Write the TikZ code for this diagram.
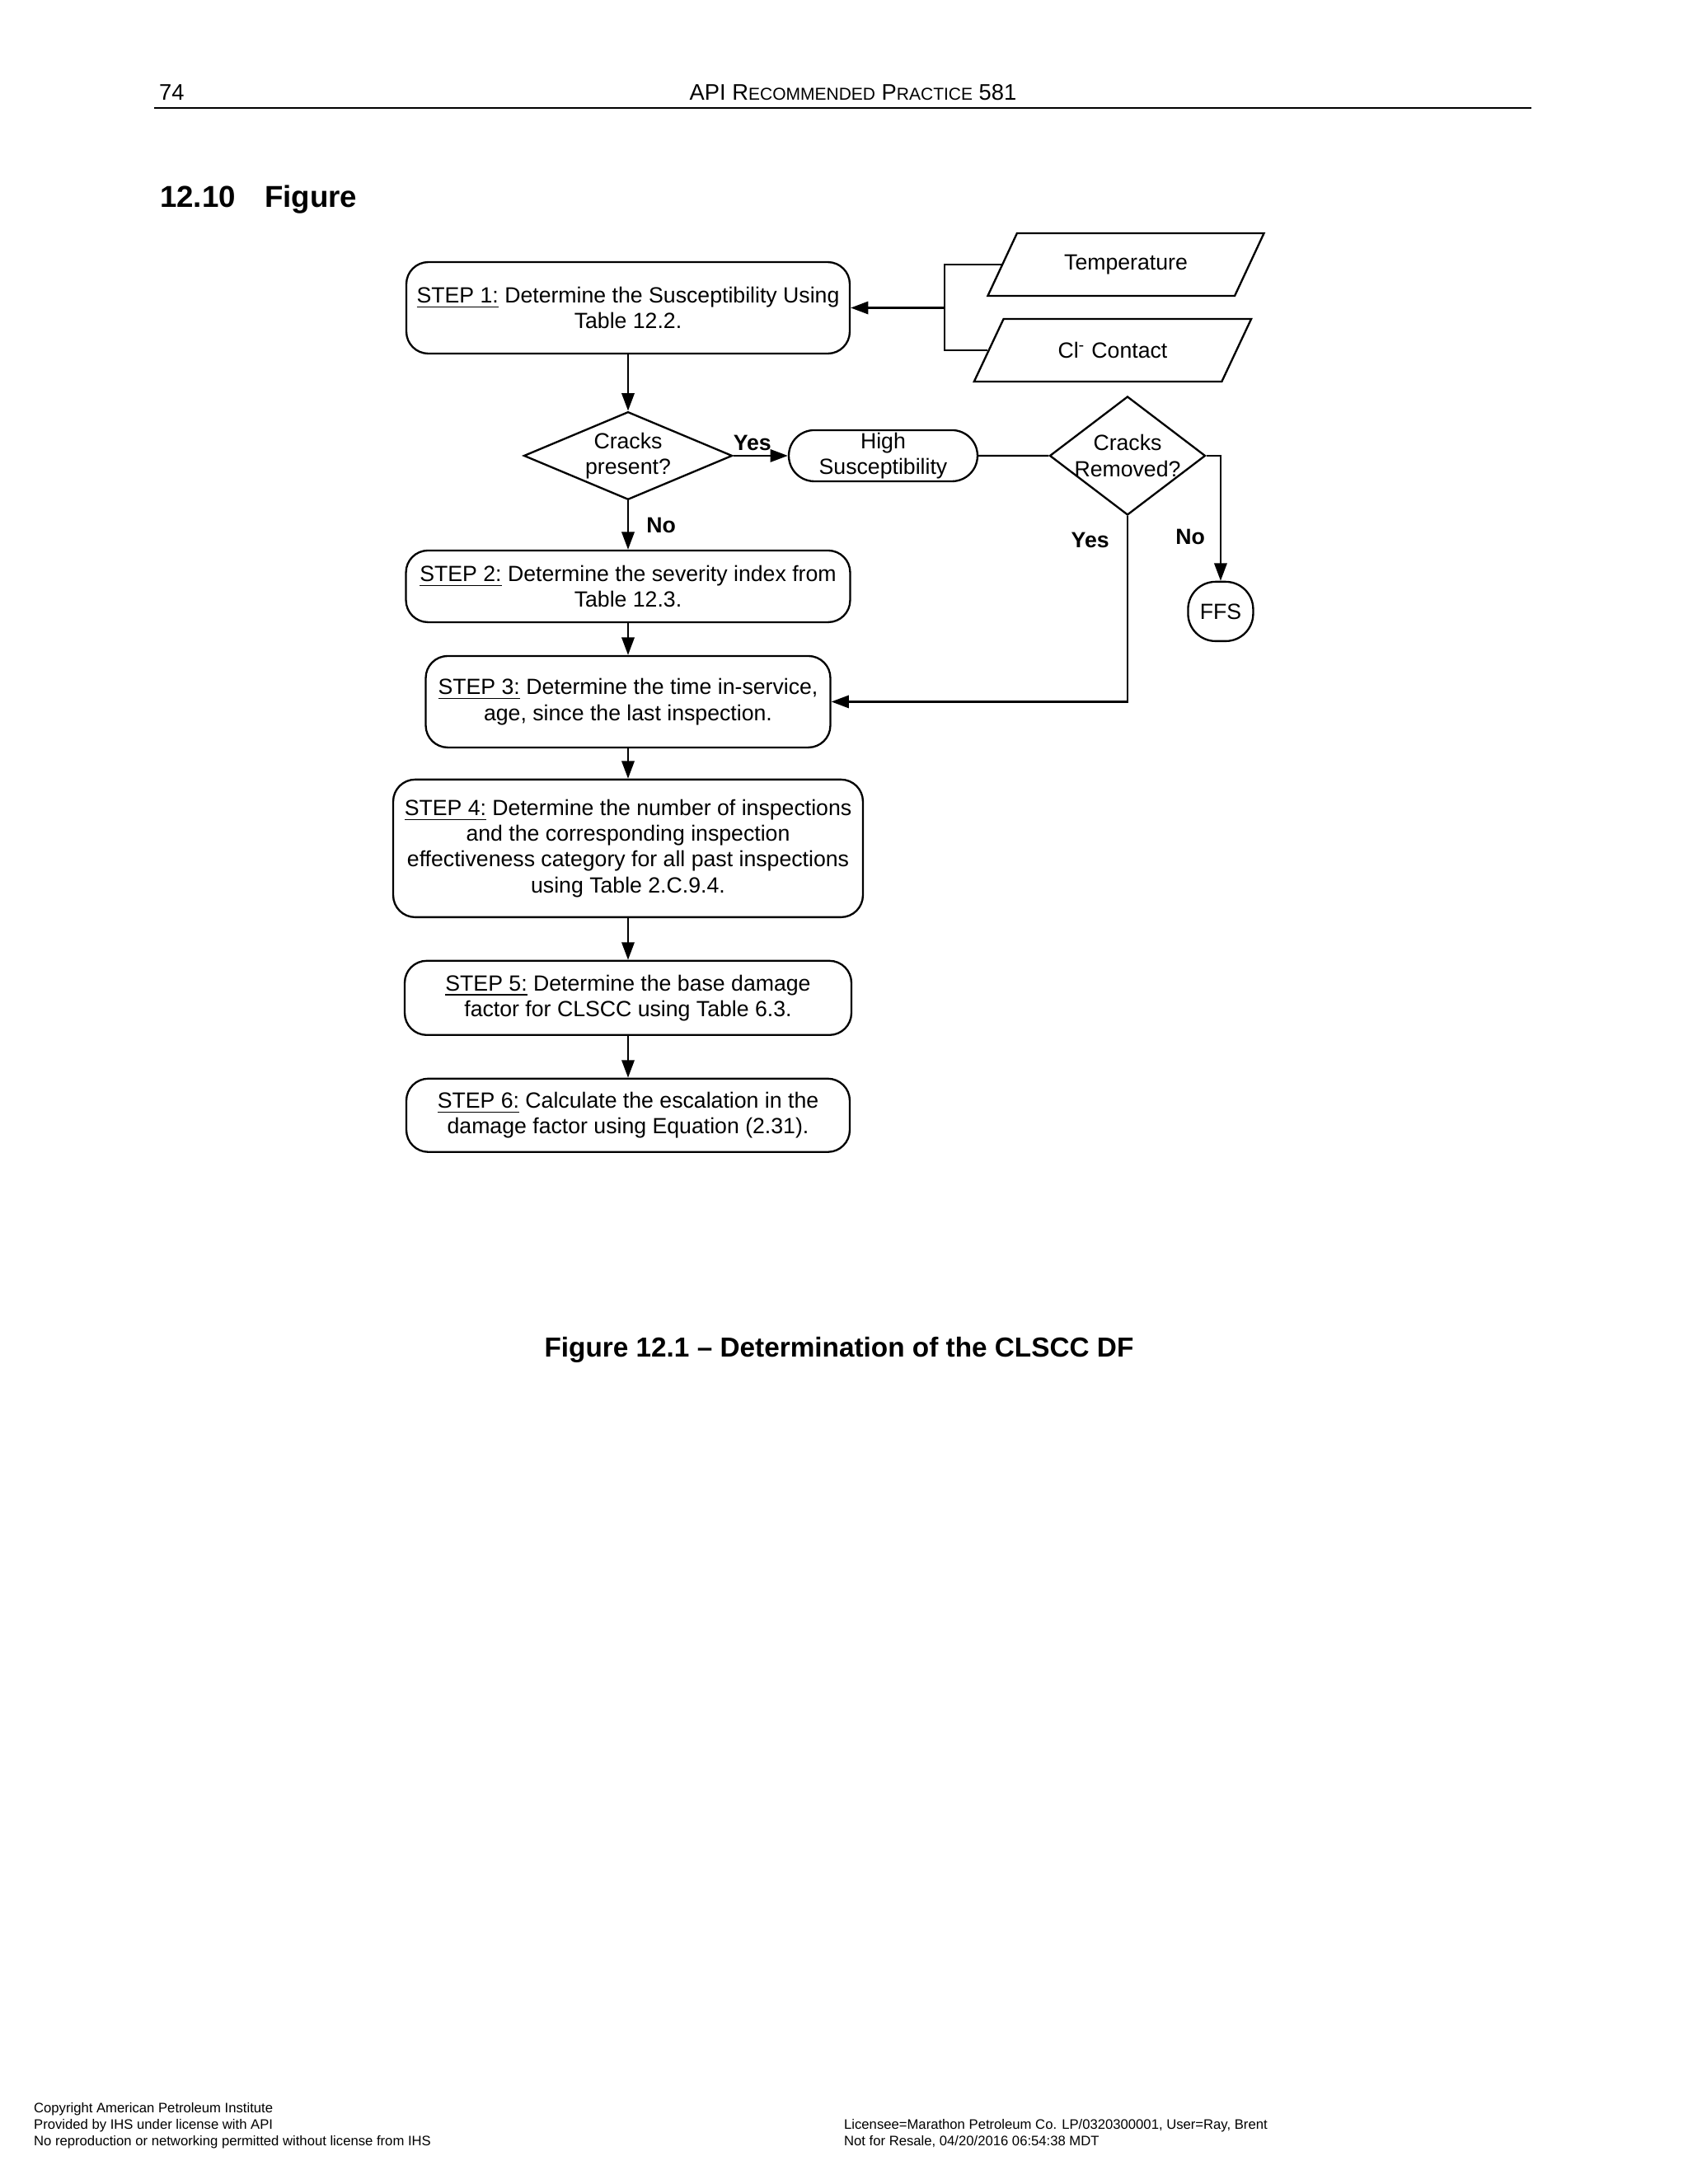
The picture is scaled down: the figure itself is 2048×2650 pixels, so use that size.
\documentclass[tikz,border=0pt]{standalone}
\usepackage{fontspec}
\setmainfont{Liberation Sans}
\usetikzlibrary{arrows.meta,shapes.geometric,shapes.misc}

\tikzset{
  stepbox/.style={draw, rectangle, rounded corners=8pt, align=center, inner sep=2pt},
  decision/.style={draw, diamond, align=center, inner sep=-4pt},
  terminal/.style={draw, rounded rectangle, align=center, inner sep=0pt},
  io/.style={draw, trapezium, trapezium left angle=63.4, trapezium right angle=116.6,
    trapezium stretches=true, minimum width=3.553cm, minimum height=0.801cm},
  answer/.style={font=\bfseries\fontsize{8}{9.4}\selectfont},
  pagetext/.style={anchor=base west, inner sep=0pt}
}

\begin{document}
\begin{tikzpicture}[x=0.010542cm, y=-0.010542cm, >={Triangle[length=6.4pt,width=4.6pt]},
    line width=0.7pt, font=\fontsize{8}{9.4}\selectfont, node distance=2cm]
  \fill[white] (0,0) rectangle (2048,2650);
  \useasboundingbox (0,0) rectangle (2048,2650);

  % page head
  \node[pagetext, font=\fontsize{8.2}{10}\selectfont] (pageno) at (192,121) {74};
  \node[pagetext, anchor=base, font=\fontsize{8.2}{10}\selectfont] (runhead) at (1035,121)
    {API R{\fontsize{6.3}{8}\selectfont ECOMMENDED} P{\fontsize{6.3}{8}\selectfont RACTICE} 581};
  \draw[line width=0.6pt] (187,131) -- (1858,131);
  \node[pagetext, font=\bfseries\fontsize{11}{13}\selectfont] (secno) at (193,251) {12.10};
  \node[pagetext, font=\bfseries\fontsize{11}{13}\selectfont] (sectitle) at (320,251) {Figure};

  % flow chart
  \node[stepbox, minimum width=5.672cm, minimum height=1.170cm] (s1) at (762,373.5)
    {\underline{STEP 1:} Determine the Susceptibility Using\\Table 12.2.};
  \node[decision, minimum width=2.667cm, minimum height=1.117cm] (d1) [below of=s1, node distance=1.892cm]
    {Cracks\\present?};
  \node[stepbox, minimum width=5.682cm, minimum height=0.917cm] (s2) [below of=d1, node distance=1.671cm]
    {\underline{STEP 2:} Determine the severity index from\\Table 12.3.};
  \node[stepbox, minimum width=5.176cm, minimum height=1.170cm] (s3) [below of=s2, node distance=1.476cm]
    {\underline{STEP 3:} Determine the time in-service,\\age, since the last inspection.};
  \node[stepbox, minimum width=6.009cm, minimum height=1.761cm] (s4) [below of=s3, node distance=1.876cm]
    {\underline{STEP 4:} Determine the number of inspections\\and the corresponding inspection\\effectiveness category for all past inspections\\using Table 2.C.9.4.};
  \node[stepbox, minimum width=5.714cm, minimum height=0.949cm] (s5) [below of=s4, node distance=1.913cm]
    {\underline{STEP 5:} Determine the base damage\\factor for CLSCC using Table 6.3.};
  \node[stepbox, minimum width=5.672cm, minimum height=0.938cm] (s6) [below of=s5, node distance=1.502cm]
    {\underline{STEP 6:} Calculate the escalation in the\\damage factor using Equation (2.31).};

  \node[terminal, minimum width=2.414cm, minimum height=0.654cm] (hs) [right of=d1, node distance=3.263cm]
    {High\\Susceptibility};
  \node[decision, minimum width=1.992cm, minimum height=1.518cm] (d2) [right of=hs, node distance=3.126cm]
    {Cracks\\Removed?};
  \node[draw, rectangle, rounded corners=10pt, inner sep=0pt, minimum width=0.833cm, minimum height=0.759cm] (ffs)
    [below of=d2, node distance=1.992cm, xshift=1.191cm] {FFS};
  \node[io] (temp) [above of=d2, node distance=2.446cm, xshift=-0.021cm] {Temperature};
  \node[io] (cl) [above of=d2, node distance=1.349cm, xshift=-0.19cm] {Cl\textsuperscript{-} Contact};

  \coordinate (join) at (1146,373.5);
  \draw (temp.west) -| (join) |- (cl.west);
  \draw[->] (join) -- (s1.east);

  \path[->]
    (s1) edge (d1)
    (d1) edge node[answer, above, inner sep=1.5pt, pos=0.35] {Yes} (hs)
    (d1) edge node[answer, right=3pt] {No} (s2)
    (s2) edge (s3)
    (s3) edge (s4)
    (s4) edge (s5)
    (s5) edge (s6);
  \draw (hs) -- (d2);
  \draw[->] (d2.east) -| node[answer, pos=0.826, left=2pt] {No} (ffs.north);
  \draw[->] (d2.south) |- node[answer, pos=0.066, left=3pt] {Yes} (s3.east);

  \node[pagetext, anchor=base, font=\bfseries\fontsize{10}{12}\selectfont] (caption) at (1018,1646)
    {Figure 12.1 – Determination of the CLSCC DF};

  % page foot
  \node[pagetext, font=\fontsize{5}{6}\selectfont] (foot1) at (40,2563) {Copyright American Petroleum Institute};
  \node[pagetext, font=\fontsize{5}{6}\selectfont] (foot2) at (40,2583) {Provided by IHS under license with API};
  \node[pagetext, font=\fontsize{5}{6}\selectfont] (foot3) at (40,2603) {No reproduction or networking permitted without license from IHS};
  \node[pagetext, font=\fontsize{5}{6}\selectfont] (foot4) at (1023,2583) {Licensee=Marathon Petroleum Co. LP/0320300001, User=Ray, Brent};
  \node[pagetext, font=\fontsize{5}{6}\selectfont] (foot5) at (1023,2603) {Not for Resale, 04/20/2016 06:54:38 MDT};
\end{tikzpicture}
\end{document}
